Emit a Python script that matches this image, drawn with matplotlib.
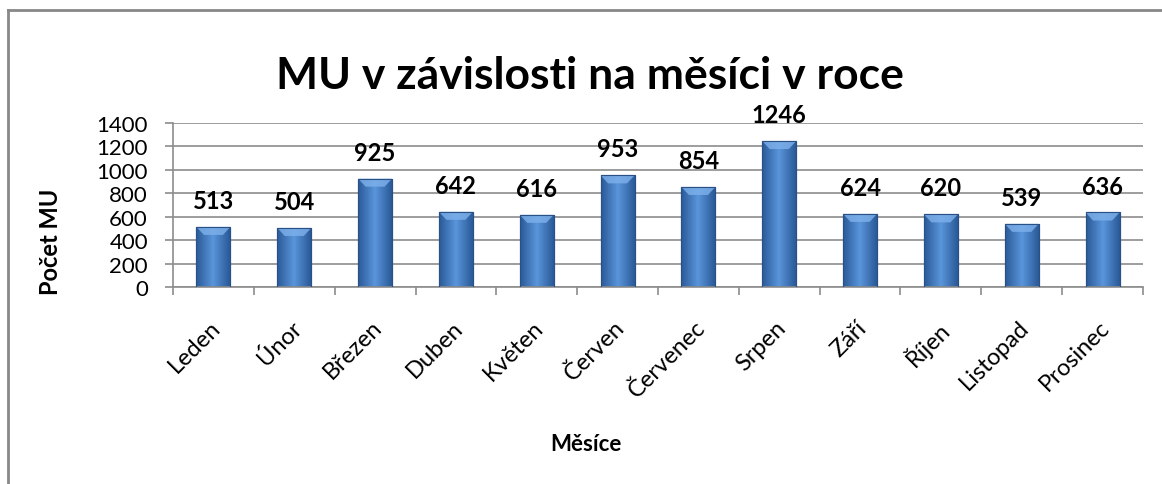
import numpy as np
import matplotlib.pyplot as plt
import matplotlib.transforms as mtransforms
from matplotlib.colors import LinearSegmentedColormap
from matplotlib.lines import Line2D
from matplotlib.patches import Polygon

months = ["Leden", "Únor", "Březen", "Duben", "Květen", "Červen",
          "Červenec", "Srpen", "Září", "Říjen", "Listopad", "Prosinec"]
counts = [513, 504, 925, 642, 616, 953, 854, 1246, 624, 620, 539, 636]
yticks = [0, 200, 400, 600, 800, 1000, 1200, 1400]

plt.rcParams['font.family'] = ['Lato', 'DejaVu Sans']

W, H = 1162, 485
fig = plt.figure(figsize=(W / 100, H / 100), dpi=100)
ax = fig.add_axes([173 / W, 1 - 288 / H, (1143 - 173) / W, (288 - 124) / H])

x = np.arange(len(months))
bars = ax.bar(x, counts, width=0.42, color='#4579C0', edgecolor='#2A5185',
              linewidth=0.8, zorder=2)

# horizontal gradient inside each bar + light bevel on top
cmap = LinearSegmentedColormap.from_list('b', ['#2A5A98', '#5A95DB', '#2A5A98'])
grad = np.linspace(0, 1, 64).reshape(1, -1)
bevel = 8 * 1400 / 164  # ~8 px in data units
for b in bars:
    x0, w, h = b.get_x(), b.get_width(), b.get_height()
    im = ax.imshow(grad, extent=[x0, x0 + w, 0, h], aspect='auto', cmap=cmap,
                   zorder=2.5, interpolation='bicubic')
    im.set_clip_path(b)
    top = Polygon([(x0, h), (x0 + w, h), (x0 + w * 0.78, h - bevel), (x0 + w * 0.22, h - bevel)],
                  closed=True, facecolor='#7FB2EC', edgecolor='none', alpha=0.8, zorder=2.6)
    ax.add_patch(top)
    ax.add_patch(plt.Rectangle((x0, 0), w, h, fill=False, edgecolor='#2A5185',
                               linewidth=0.8, zorder=2.7))

for xi, v in zip(x, counts):
    ax.annotate(str(v), (xi, v), xytext=(0, 19), textcoords='offset points',
                ha='center', va='center', fontsize=17, fontweight='bold')

ax.set_xlim(-0.5, len(months) - 0.5)
ax.set_ylim(0, 1400)
ax.set_yticks(yticks)
ax.set_yticklabels([str(t) for t in yticks], fontsize=16)
ax.yaxis.grid(True, color='#8c8c8c', linewidth=1.2, zorder=0)
ax.set_axisbelow(True)

ax.set_xticks(x)
ax.set_xticklabels(months, rotation=45, ha='right', va='top',
                   rotation_mode='anchor', fontsize=17)
ax.tick_params(axis='x', length=0, pad=21)
shift = mtransforms.ScaledTranslation(-4 / 100, 0, fig.dpi_scale_trans)
for lbl in ax.get_xticklabels():
    lbl.set_transform(lbl.get_transform() + shift)
ax.set_xticks(np.arange(-0.5, len(months)), minor=True)
ax.tick_params(axis='x', which='minor', length=6, color='#8c8c8c', width=1.2)
ax.tick_params(axis='y', length=6, color='#8c8c8c', width=1.2, pad=12)

for s in ['top', 'right']:
    ax.spines[s].set_visible(False)
for s in ['left', 'bottom']:
    ax.spines[s].set_color('#8c8c8c')
    ax.spines[s].set_linewidth(1.2)

fig.text(590 / W, 1 - 76 / H, "MU v závislosti na měsíci v roce", ha='center',
         va='center', fontsize=32, fontweight='bold')
fig.text(586 / W, 1 - 445 / H, "Měsíce", ha='center', va='center',
         fontsize=16, fontweight='bold')
fig.text(50 / W, 1 - 242 / H, "Počet MU", ha='center', va='center',
         fontsize=17, fontweight='bold', rotation=90)

# frame lines (top and left only visible)
fig.add_artist(Line2D([8 / W, 1], [1 - 11 / H, 1 - 11 / H], color='#888888', linewidth=2))
fig.add_artist(Line2D([8 / W, 8 / W], [0, 1 - 11 / H], color='#888888', linewidth=2))

fig.savefig('out.png', dpi=100)
